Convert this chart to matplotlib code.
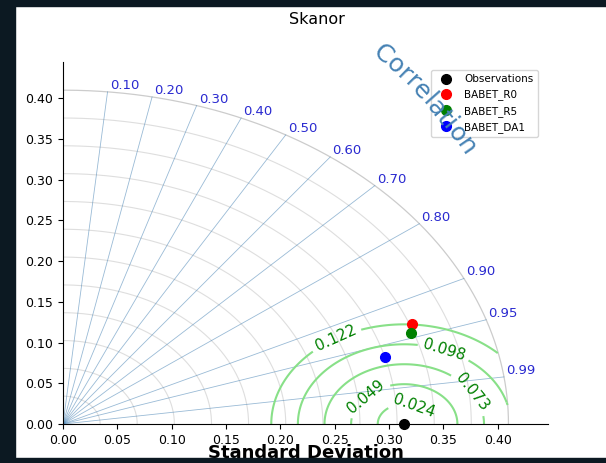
import numpy as np
import matplotlib.pyplot as plt
from matplotlib.patches import Rectangle

# Taylor diagram for the Skanor station
labels = ['Observations', 'BABET_R0', 'BABET_R5', 'BABET_DA1']
colors = ['black', 'red', 'green', 'blue']
sdev = [0.3141, 0.3435, 0.3391, 0.3072]
ccoef = [1.0, 0.9343, 0.9445, 0.9638]

cor_ticks = [0.1, 0.2, 0.3, 0.4, 0.5, 0.6, 0.7, 0.8, 0.9, 0.95, 0.99]
std_ticks = [0.00, 0.05, 0.10, 0.15, 0.20, 0.25, 0.30, 0.35, 0.40]
std_arcs = [0.0342, 0.0683, 0.1025, 0.1367, 0.1708, 0.205, 0.2392,
            0.2733, 0.3075, 0.3417, 0.3758]
rmax = 0.41
rms_levels = [0.0244, 0.0489, 0.0734, 0.0979, 0.1224]
rms_label_pos = [(0.324, 0.026), (0.280, 0.032), (0.379, 0.042),
                 (0.352, 0.097), (0.252, 0.103)]

W, H = 606, 463
dark = '#0c1922'

fig = plt.figure(figsize=(W / 100, H / 100), dpi=100)
fig.patch.set_facecolor('white')
ax = fig.add_axes([63 / W, 39 / H, 485 / W, 362 / H])
ax.set_xlim(0, 0.4464)
ax.set_ylim(0, 0.4446)

for s in ['top', 'right']:
    ax.spines[s].set_visible(False)
ax.set_xticks(std_ticks)
ax.set_yticks(std_ticks)
ax.set_xticklabels(['%.2f' % v for v in std_ticks], fontsize=9)
ax.set_yticklabels(['%.2f' % v for v in std_ticks], fontsize=9)

# std-dev arcs
th = np.linspace(0, np.pi / 2, 300)
for r in std_arcs:
    ax.plot(r * np.cos(th), r * np.sin(th), color='#dedede', lw=0.8, zorder=1)
ax.plot(rmax * np.cos(th), rmax * np.sin(th), color='#cccccc', lw=0.9, zorder=1)

# correlation rays + labels
for c in cor_ticks:
    a = np.arccos(c)
    ax.plot([0, rmax * np.cos(a)], [0, rmax * np.sin(a)],
            color='steelblue', lw=0.6, alpha=0.55, zorder=1)
    ax.text(rmax * np.cos(a) + 0.002, rmax * np.sin(a), '%.2f' % c,
            color='#2a2ad0', fontsize=9.5, ha='left', va='bottom')

# centred RMS difference contours
xs = np.linspace(0, rmax, 500)
X, Y = np.meshgrid(xs, xs)
rms = np.sqrt((X - sdev[0]) ** 2 + Y ** 2)
rms = np.ma.masked_where(np.sqrt(X ** 2 + Y ** 2) > rmax, rms)
cs = ax.contour(X, Y, rms, levels=rms_levels, colors='#88e088',
                linewidths=1.5, zorder=2)
ax.clabel(cs, inline=True, fmt='%.3f', fontsize=11, colors='green',
          manual=rms_label_pos)

# model points
handles = []
for lab, col, s, c in zip(labels, colors, sdev, ccoef):
    a = np.arccos(c)
    h, = ax.plot(s * np.cos(a), s * np.sin(a), 'o', color=col, ms=7,
                 clip_on=False, zorder=5, label=lab)
    handles.append(h)

ax.legend(handles=handles, loc='upper right', fontsize=7.5, numpoints=1,
          bbox_to_anchor=(543 / W, 1 - 65 / H), bbox_transform=fig.transFigure)

ax.set_xlabel('Standard Deviation', fontsize=13, fontweight='bold')
ax.xaxis.set_label_coords(0.5, -20 / 362)
fig.text(317 / W, 1 - 20 / H, 'Skanor', ha='center', va='center', fontsize=11.5)

# curved "Correlation" label along a circle around the origin
renderer = fig.canvas.get_renderer()
word = 'Correlation'
widths = []
for ch in word:
    t = fig.text(0, 0, ch, fontsize=18)
    widths.append(t.get_window_extent(renderer).width)
    t.remove()
ox, oy = ax.transData.transform((0, 0))
R = 482.0
mid = np.deg2rad(41.9)
total = sum(widths)
pos = -total / 2
for ch, w in zip(word, widths):
    s = pos + w / 2
    pos += w
    ang = mid - s / R
    px = ox + R * np.cos(ang)
    py = oy + R * np.sin(ang)
    fx, fy = fig.transFigure.inverted().transform((px, py))
    fig.text(fx, fy, ch, fontsize=18, color='steelblue', ha='center',
             va='baseline', rotation=np.rad2deg(ang) - 90,
             rotation_mode='anchor')

# dark border of the window
fig.add_artist(Rectangle((0, 0), 15 / W, 1, transform=fig.transFigure,
                         color=dark, zorder=10))
fig.add_artist(Rectangle((0, 1 - 6 / H), 1, 6 / H, transform=fig.transFigure,
                         color=dark, zorder=10))
fig.add_artist(Rectangle((0, 0), 1, 5 / H, transform=fig.transFigure,
                         color=dark, zorder=10))

fig.savefig('out.png', dpi=100, facecolor=fig.get_facecolor())
